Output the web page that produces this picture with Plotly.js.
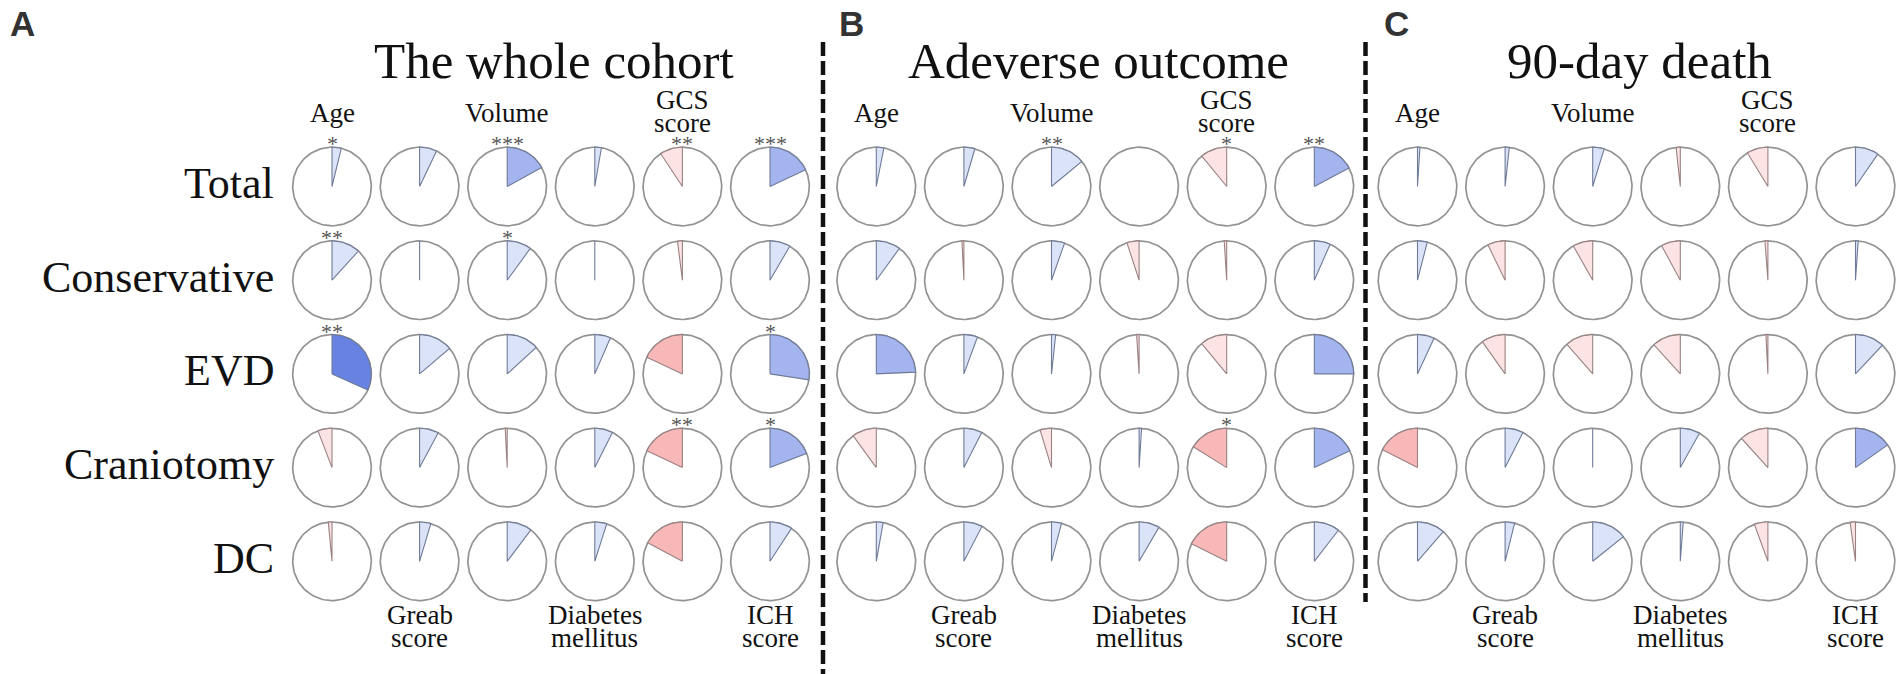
<!DOCTYPE html>
<html><head><meta charset="utf-8">
<script src="https://cdn.plot.ly/plotly-3.0.1.min.js"></script>
<style>html,body{margin:0;padding:0;background:#fff;overflow:hidden}#chart{width:1902px;height:674px}</style>
</head><body><div id="chart"></div>
<script>
// ---------------- data ----------------
const panelTitles = ["The whole cohort", "Adeverse outcome", "90-day death"];
const panelLetters = ["A", "B", "C"];
const groups = ["Total", "Conservative", "EVD", "Craniotomy", "DC"];
const variables = ["Age", "Greab score", "Volume", "Diabetes mellitus", "GCS score", "ICH score"];

// correlation coefficients (rows = groups, cols = variables)
const corrWhole = [
  [0.038, 0.071, 0.170, 0.027, -0.093, 0.180],
  [0.117, 0.002, 0.100, 0.002, -0.020, 0.084],
  [0.317, 0.138, 0.132, 0.065, -0.180, 0.274],
  [-0.058, 0.078, -0.008, 0.074, -0.180, 0.191],
  [-0.015, 0.046, 0.103, 0.049, -0.172, 0.092]
];
const corrAdverse = [
  [0.031, 0.045, 0.140, 0.000, -0.109, 0.172],
  [0.100, -0.008, 0.054, -0.050, -0.010, 0.066],
  [0.243, 0.056, 0.017, -0.010, -0.110, 0.250],
  [-0.100, 0.075, -0.047, 0.010, -0.161, 0.180],
  [0.028, 0.076, 0.041, 0.084, -0.176, 0.105]
];
const corrDeath = [
  [0.010, 0.017, 0.047, -0.017, -0.087, 0.096],
  [0.040, -0.072, -0.082, -0.079, -0.012, 0.011],
  [0.069, -0.098, -0.114, -0.117, -0.008, 0.120],
  [-0.175, 0.075, 0.001, 0.081, -0.117, 0.152],
  [0.114, 0.039, 0.142, 0.012, -0.056, -0.022]
];
// significance marks
const sigWhole = [
  ["*", "", "***", "", "**", "***"],
  ["**", "", "*", "", "", ""],
  ["**", "", "", "", "", "*"],
  ["", "", "", "", "**", "*"],
  ["", "", "", "", "", ""]
];
const sigAdverse = [
  ["", "", "**", "", "*", "**"],
  ["", "", "", "", "", ""],
  ["", "", "", "", "", ""],
  ["", "", "", "", "*", ""],
  ["", "", "", "", "", ""]
];
const sigDeath = [
  ["", "", "", "", "", ""],
  ["", "", "", "", "", ""],
  ["", "", "", "", "", ""],
  ["", "", "", "", "", ""],
  ["", "", "", "", "", ""]
];

// ---------------- layout constants ----------------
const W = 1902, H = 674;
const panels = [corrWhole, corrAdverse, corrDeath];
const sigs = [sigWhole, sigAdverse, sigDeath];
const panelX0 = [332, 876.3, 1417.5];
const colStep = 87.6, rowY0 = 186.5, rowStep = 93.7, R = 39.3;
const serif = "Liberation Serif";
const sans = "Liberation Sans";

function fillFor(r) {
  const a = Math.abs(r);
  if (r >= 0) return a < 0.15 ? "#dbe3f8" : (a < 0.30 ? "#a3b4ef" : "#6882e2");
  return a < 0.15 ? "#fce4e4" : (a < 0.30 ? "#f8b8b8" : "#ef8585");
}
function strokeFor(r) { return r >= 0 ? "#6f7b97" : "#9a8282"; }

const traces = [];
const annotations = [];
const shapes = [];

// circles (one trace)
const cx = [], cy = [];
panels.forEach((mat, p) => {
  mat.forEach((row, i) => {
    row.forEach((r, j) => {
      const x0 = panelX0[p] + j * colStep, y0 = rowY0 + i * rowStep;
      for (let k = 0; k <= 120; k++) {
        const a = k / 120 * 2 * Math.PI;
        cx.push(x0 + R * Math.cos(a)); cy.push(y0 + R * Math.sin(a));
      }
      cx.push(null); cy.push(null);
    });
  });
});
traces.push({x: cx, y: cy, mode: "lines", line: {color: "#939393", width: 1.7}, hoverinfo: "skip", showlegend: false});

// wedges
panels.forEach((mat, p) => {
  mat.forEach((row, i) => {
    row.forEach((r, j) => {
      const x0 = panelX0[p] + j * colStep, y0 = rowY0 + i * rowStep;
      const s = sigs[p][i][j];
      if (s) annotations.push({x: x0, y: y0 - R - 3.5, xref: "x", yref: "y", text: s, showarrow: false,
        xanchor: "center", yanchor: "middle", font: {family: serif, size: 22, color: "#555"}});
      if (Math.abs(r) < 0.0005) return;
      const th = Math.abs(r) * 2 * Math.PI;
      const sgn = r >= 0 ? 1 : -1;
      const n = Math.max(2, Math.ceil(th / (Math.PI / 90)));
      const xs = [x0], ys = [y0];
      for (let k = 0; k <= n; k++) {
        const a = th * k / n;
        xs.push(x0 + sgn * R * Math.sin(a));
        ys.push(y0 - R * Math.cos(a));
      }
      xs.push(x0); ys.push(y0);
      traces.push({x: xs, y: ys, mode: "lines", fill: "toself", fillcolor: fillFor(r),
        line: {color: strokeFor(r), width: 1.1}, hoverinfo: "skip", showlegend: false});
    });
  });
});

// panel texts
panels.forEach((mat, p) => {
  const mid = panelX0[p] + 2.5 * colStep;
  annotations.push({x: mid + 3, y: 61, xref: "x", yref: "y", text: panelTitles[p], showarrow: false,
    xanchor: "center", yanchor: "middle", font: {family: serif, size: 51, color: "#111"}});
  variables.forEach((v, j) => {
    const x = panelX0[p] + j * colStep;
    const parts = v.split(" ");
    const top = j % 2 === 0;
    if (parts.length === 1) {
      annotations.push({x: x, y: top ? 113 : 626, xref: "x", yref: "y", text: v, showarrow: false,
        xanchor: "center", yanchor: "middle", font: {family: serif, size: 27, color: "#111"}});
    } else {
      const ys = top ? [99.5, 122.5] : [615, 638];
      parts.forEach((t, k) => annotations.push({x: x, y: ys[k], xref: "x", yref: "y", text: t, showarrow: false,
        xanchor: "center", yanchor: "middle", font: {family: serif, size: 27, color: "#111"}}));
    }
  });
});
// group labels
groups.forEach((g, i) => {
  annotations.push({x: 276, y: rowY0 + i * rowStep - 3, xref: "x", yref: "y", text: g, showarrow: false,
    xanchor: "right", yanchor: "middle", font: {family: serif, size: 44, color: "#111"}});
});
// panel letters
const letterX = [8, 836.5, 1381.5];
panelLetters.forEach((l, p) => annotations.push({x: letterX[p], y: 23, xref: "x", yref: "y", text: "<b>" + l + "</b>",
  showarrow: false, xanchor: "left", yanchor: "middle", font: {family: sans, size: 35, color: "#333"}}));

// dashed separators
shapes.push({type: "line", xref: "x", yref: "y", x0: 823, x1: 823, y0: 42, y1: 674, line: {color: "#111", width: 4.5, dash: "14px,5px"}});
shapes.push({type: "line", xref: "x", yref: "y", x0: 1365.5, x1: 1365.5, y0: 42, y1: 602, line: {color: "#111", width: 4.5, dash: "14px,5px"}});

const layout = {
  width: W, height: H, margin: {l: 0, r: 0, t: 0, b: 0},
  paper_bgcolor: "#fff", plot_bgcolor: "#fff",
  xaxis: {range: [0, W], visible: false, fixedrange: true},
  yaxis: {range: [H, 0], visible: false, fixedrange: true},
  showlegend: false, annotations: annotations, shapes: shapes
};
Plotly.newPlot("chart", traces, layout, {staticPlot: true, displayModeBar: false});
</script>
</body></html>
